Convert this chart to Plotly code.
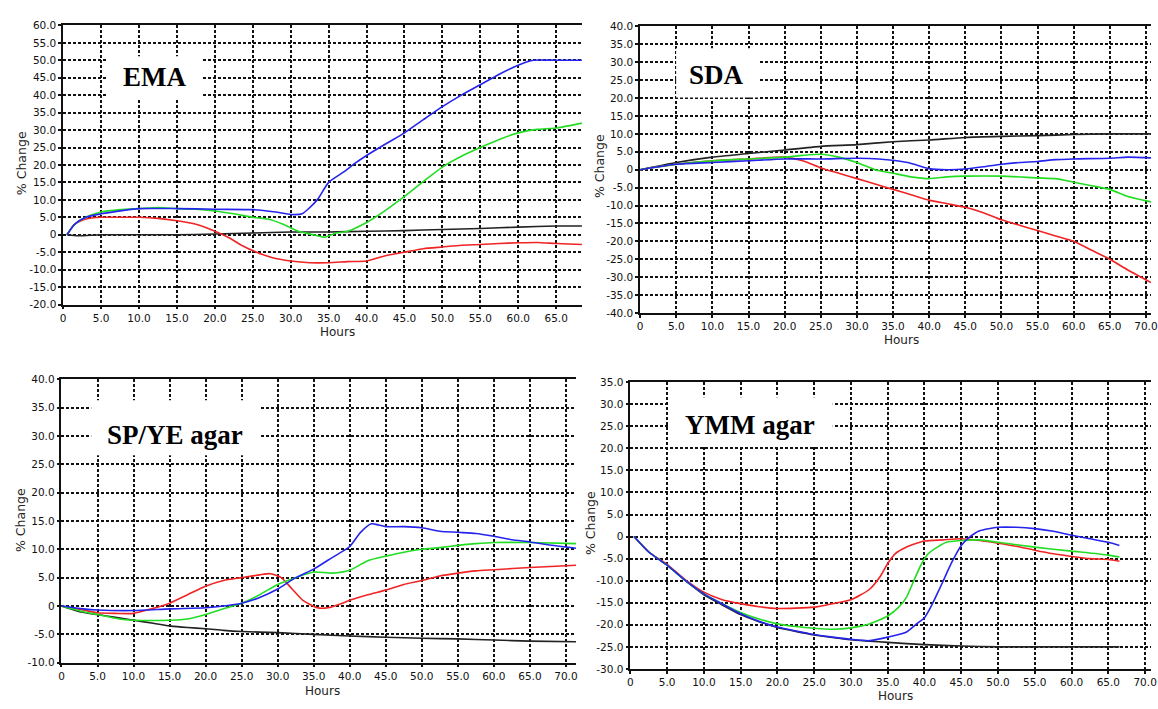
import plotly.graph_objects as go

W, H = 1158, 709

# ---------------- DATA ----------------
EMA_BLUE_H = [0.5, 1.5, 3, 5, 8, 10, 15, 20, 25, 28, 30, 31.5, 33.5, 35, 37, 38.5, 40, 42.5, 45, 47.5, 50, 52.5, 55, 57.5, 60, 62, 65, 68.4]
EMA_BLUE_V = [0, 3, 5, 6, 7, 7.5, 7.5, 7.3, 7.2, 6.5, 5.8, 6, 10, 15, 18, 20.5, 22.7, 26, 29.2, 33, 36.7, 40, 43, 46, 48.6, 50, 50, 50]
EMA_GREEN_H = [0.5, 1.5, 3, 5, 7.5, 10, 12.5, 15, 17.5, 20, 22.5, 25, 27, 29, 31, 33, 34.5, 36, 37.5, 40, 42.5, 45, 47.5, 50, 52.5, 55, 57.5, 60, 62.5, 65, 68.4]
EMA_GREEN_V = [0, 3, 5, 6.5, 7.2, 7.5, 7.8, 7.5, 7.3, 6.8, 6, 5, 4.5, 3, 1, 0, -0.7, 0.5, 1, 3.5, 7, 11, 15.3, 19.4, 22.5, 25, 27.3, 29.2, 30.2, 30.6, 32]
EMA_RED_H = [0.5, 1.5, 3, 5, 7.5, 10, 12.5, 15, 17.5, 20, 22, 23.5, 25.5, 27.5, 30, 32.5, 35, 37.5, 40, 42.5, 45, 47.5, 50, 52.5, 55, 57.5, 60, 62.5, 65, 68.4]
EMA_RED_V = [0, 3, 4.5, 5, 5, 5, 4.7, 4, 3, 1, -1, -3, -5, -6.5, -7.5, -8, -8, -7.7, -7.5, -6, -5, -4, -3.5, -3, -2.8, -2.5, -2.3, -2.2, -2.5, -2.8]
EMA_BLACK_H = [0.5, 2, 5, 10, 15, 20, 25, 30, 35, 40, 45, 50, 55, 60, 65, 68.4]
EMA_BLACK_V = [0, -0.3, 0, 0, 0, 0.2, 0.5, 0.8, 0.8, 1, 1.2, 1.5, 1.8, 2.2, 2.5, 2.5]

SDA_BLACK_H = [0, 5, 10, 15, 20, 25, 30, 35, 40, 45, 50, 55, 60, 65, 70.7]
SDA_BLACK_V = [0, 2, 3.5, 4.5, 5.5, 6.5, 7, 7.8, 8.3, 9, 9.3, 9.5, 9.8, 10, 10]
SDA_BLUE_H = [0, 5, 10, 15, 20, 25, 30, 33, 37, 40, 42.5, 45, 47.5, 50, 52.5, 55, 57.5, 60, 65, 67.5, 70.7]
SDA_BLUE_V = [0, 1.5, 2, 2.5, 3, 3, 3.2, 3, 2, 0.3, 0, 0.2, 0.8, 1.5, 2, 2.3, 2.8, 3, 3.2, 3.5, 3.3]
SDA_GREEN_H = [0, 5, 10, 15, 20, 22.5, 25, 27.5, 30, 32.5, 35, 37.5, 40, 42.5, 45, 50, 55, 57.5, 60, 62.5, 65, 67.5, 70.7]
SDA_GREEN_V = [0, 1.5, 2.5, 3, 3.5, 4, 4.3, 3.5, 2, 0, -1, -2, -2.5, -2, -1.8, -1.8, -2.3, -2.5, -3.5, -4.5, -5.5, -7.5, -9]
SDA_RED_H = [0, 5, 10, 15, 20, 22.5, 25, 27.5, 30, 32.5, 35, 37.5, 40, 42.5, 45, 47.5, 50, 52.5, 55, 57.5, 60, 62.5, 65, 67.5, 70.7]
SDA_RED_V = [0, 1.5, 2.5, 3, 3.5, 2.5, 0.5, -1, -2.5, -4, -5.5, -7, -8.5, -9.5, -10.5, -12, -14, -15.5, -17, -18.5, -20, -22.5, -25, -28, -31.5]

SPYE_BLACK_H = [0, 2.5, 5, 7.5, 10, 12.5, 15, 17.5, 20, 22.5, 25, 30, 35, 40, 45, 50, 55, 60, 65, 71.4]
SPYE_BLACK_V = [0, -1, -1.5, -2, -2.5, -3, -3.5, -3.8, -4, -4.3, -4.5, -4.7, -5, -5.3, -5.5, -5.7, -5.8, -6, -6.2, -6.3]
SPYE_BLUE_H = [0, 3, 5, 10, 15, 20, 22.5, 25, 27.5, 30, 32.5, 35, 37.5, 40, 41.5, 43, 44, 45, 47.5, 50, 52.5, 55, 57.5, 60, 62.5, 65, 67.5, 71.4]
SPYE_BLUE_V = [0, -0.5, -0.7, -0.8, -0.5, -0.3, 0, 0.5, 1.5, 3, 5, 6.5, 8.5, 10.5, 13, 14.5, 14.3, 14, 14, 13.8, 13.2, 13, 12.8, 12.3, 11.7, 11.3, 10.8, 10.2]
SPYE_GREEN_H = [0, 3, 5, 8, 10, 15, 17.5, 20, 22.5, 25, 27.5, 30, 32.5, 35, 37.5, 40, 42.5, 45, 47.5, 50, 52.5, 55, 57.5, 60, 65, 71.4]
SPYE_GREEN_V = [0, -1, -1.5, -2.3, -2.5, -2.5, -2.3, -1.5, -0.5, 0.5, 2, 3.8, 5, 6, 5.8, 6.3, 8, 8.8, 9.5, 10, 10.3, 10.7, 11, 11.2, 11.2, 11]
SPYE_RED_H = [0, 3, 5, 7.5, 10, 12.5, 15, 17.5, 20, 22.5, 25, 27.5, 29, 30.5, 32, 33.5, 35.5, 37, 39, 40, 42.5, 45, 47.5, 50, 52.5, 55, 57.5, 60, 65, 71.4]
SPYE_RED_V = [0, -0.7, -1.2, -1.3, -1.3, -0.5, 0.5, 2, 3.5, 4.5, 5, 5.5, 5.7, 5, 3, 1, -0.3, -0.3, 0.5, 1, 2, 2.8, 3.8, 4.5, 5.3, 5.8, 6.2, 6.4, 6.8, 7.2]

YMM_BLACK_H = [0.5, 2.5, 5, 7.5, 10, 12.5, 15, 17.5, 20, 22.5, 25, 27.5, 30, 32.5, 35, 40, 45, 50, 55, 60, 66.5]
YMM_BLACK_V = [0, -3.5, -6.5, -10, -13.2, -15.5, -17.7, -19.3, -20.6, -21.5, -22.3, -22.9, -23.4, -23.7, -24, -24.5, -24.8, -25, -25, -25, -25]
YMM_BLUE_H = [0.5, 2.5, 5, 7.5, 10, 12.5, 15, 17.5, 20, 22.5, 25, 27.5, 30, 32.5, 35, 37.5, 39, 40, 41, 42, 42.5, 43.75, 45, 46, 47.5, 50, 52.5, 55, 57.5, 60, 62.5, 65, 66.5]
YMM_BLUE_V = [0, -3.5, -6.5, -10, -13, -15.3, -17.5, -19.2, -20.5, -21.4, -22.2, -22.8, -23.3, -23.6, -22.8, -21.7, -19.7, -18.4, -15.5, -12, -10.2, -5.7, -2, -0.3, 1.3, 2.1, 2.1, 1.8, 1.2, 0.3, -0.5, -1.3, -2]
YMM_GREEN_H = [0.5, 2.5, 5, 7.5, 10, 12.5, 15, 17.5, 20, 22.5, 25, 27.5, 30, 32.5, 35, 36.5, 37.5, 38.5, 39.5, 40.5, 41.75, 43, 45, 47.5, 50, 55, 60, 65, 66.5]
YMM_GREEN_V = [0, -3.5, -6.5, -10, -13, -15.2, -17.2, -18.7, -19.8, -20.4, -20.8, -21, -20.7, -19.8, -18, -16, -13.9, -10.2, -6.5, -3.9, -2.4, -1.3, -0.9, -0.75, -1.3, -2.4, -3.3, -4.2, -4.6]
YMM_RED_H = [0.5, 2.5, 5, 7.5, 10, 12.5, 15, 17.5, 20, 25, 27.5, 30, 32.5, 34, 35, 36, 37.5, 40, 42.5, 45, 47.5, 50, 52.5, 55, 57.5, 60, 62.5, 65, 66.5]
YMM_RED_V = [0, -3.5, -6.3, -9.8, -12.6, -14.3, -15.2, -15.9, -16.3, -16, -15.2, -14.3, -12, -9, -6.1, -3.9, -2.4, -1, -0.75, -0.5, -0.9, -1.5, -2.2, -3.1, -3.9, -4.5, -5, -5.2, -5.6]

PANEL_LABELS = ["EMA", "SDA", "SP/YE agar", "YMM agar"]
X_LABEL = "Hours"
Y_LABEL = "% Change"

COLORS = {"blue": "#2424ee", "green": "#22dd22", "red": "#f02424", "black": "#222222"}

# ---------------- LAYOUT HELPERS ----------------
def px(x):
    return x / W

def py(y):
    return 1 - y / H

def fmt(v):
    return "0" if v == 0 else f"{v:.1f}"

panels = [
    dict(l=60.7, r=584, t=19.7, b=303.7, xr=[0, 68.4], yr=[-20, 60],
         series=[("black", EMA_BLACK_H, EMA_BLACK_V), ("red", EMA_RED_H, EMA_RED_V),
                 ("green", EMA_GREEN_H, EMA_GREEN_V), ("blue", EMA_BLUE_H, EMA_BLUE_V)],
         box=(104, 200, 51, 94), text=(153, 72), ylab=(18, 160), xlab=(337, 332)),
    dict(l=642.7, r=1158, t=20.7, b=312.3, xr=[0, 70.7], yr=[-40, 40],
         series=[("black", SDA_BLACK_H, SDA_BLACK_V), ("red", SDA_RED_H, SDA_RED_V),
                 ("green", SDA_GREEN_H, SDA_GREEN_V), ("blue", SDA_BLUE_H, SDA_BLUE_V)],
         box=(679, 762, 43, 93), text=(720, 70), ylab=(601, 163), xlab=(906, 340)),
    dict(l=59, r=578, t=379.7, b=668, xr=[0, 71.4], yr=[-10, 40],
         series=[("black", SPYE_BLACK_H, SPYE_BLACK_V), ("red", SPYE_RED_H, SPYE_RED_V),
                 ("green", SPYE_GREEN_H, SPYE_GREEN_V), ("blue", SPYE_BLUE_H, SPYE_BLUE_V)],
         box=(89, 259, 401, 457), text=(174, 436), ylab=(17, 523), xlab=(322, 697)),
    dict(l=632.8, r=1158, t=382.7, b=674.3, xr=[0, 70.8], yr=[-30, 35],
         series=[("black", YMM_BLACK_H, YMM_BLACK_V), ("red", YMM_RED_H, YMM_RED_V),
                 ("green", YMM_GREEN_H, YMM_GREEN_V), ("blue", YMM_BLUE_H, YMM_BLUE_V)],
         box=(671, 837, 398, 448), text=(754, 426), ylab=(592, 526), xlab=(900, 702)),
]

fig = go.Figure()
layout = dict(width=W, height=H, margin=dict(l=0, r=0, t=0, b=0, pad=0),
              paper_bgcolor="white", plot_bgcolor="white", showlegend=False,
              shapes=[], annotations=[])

tickfont = dict(family="DejaVu Sans", size=10.5, color="#111111")

for i, p in enumerate(panels):
    n = "" if i == 0 else str(i + 1)
    xa, ya = "xaxis" + n, "yaxis" + n
    for col, hx, vy in p["series"]:
        fig.add_trace(go.Scatter(x=hx, y=vy, mode="lines", xaxis="x" + n, yaxis="y" + n,
                                 line=dict(color=COLORS[col], width=1.6, shape="spline", smoothing=0.6),
                                 hoverinfo="skip"))
    xt = [v for v in range(0, 75, 5) if v <= p["xr"][1]]
    yt = list(range(p["yr"][0], p["yr"][1] + 1, 5))
    common = dict(showgrid=True, gridcolor="#111111", gridwidth=1.5, griddash="3px,2px",
                  showline=True, linecolor="#111111", linewidth=1.5,
                  ticks="outside", ticklen=3, tickcolor="#111111", tickwidth=1.5,
                  zeroline=False, fixedrange=True, tickfont=tickfont,
                  ticklabeloverflow="allow")
    layout[xa] = dict(domain=[px(p["l"]), px(p["r"])], range=p["xr"], anchor="y" + n,
                      tickvals=xt, ticktext=[fmt(v) for v in xt], mirror=True, **common)
    layout[ya] = dict(domain=[py(p["b"]), py(p["t"])], range=p["yr"], anchor="x" + n,
                      tickvals=yt, ticktext=[fmt(v) for v in yt], **common)
    bx0, bx1, by0, by1 = p["box"]
    layout["shapes"].append(dict(type="rect", xref="paper", yref="paper",
                                 x0=px(bx0), x1=px(bx1), y0=py(by1), y1=py(by0),
                                 fillcolor="white", line=dict(width=0), layer="above"))
    layout["annotations"].append(dict(text="<b>" + PANEL_LABELS[i] + "</b>", xref="paper", yref="paper",
                                      x=px(p["text"][0]), y=py(p["text"][1]),
                                      xanchor="center", yanchor="middle", showarrow=False,
                                      font=dict(family="Liberation Serif", size=27, color="black")))
    layout["annotations"].append(dict(text=Y_LABEL, xref="paper", yref="paper",
                                      x=px(p["ylab"][0]), y=py(p["ylab"][1]), textangle=-90,
                                      xanchor="center", yanchor="middle", showarrow=False,
                                      font=dict(family="DejaVu Sans", size=12.5, color="#222222")))
    layout["annotations"].append(dict(text=X_LABEL, xref="paper", yref="paper",
                                      x=px(p["xlab"][0]), y=py(p["xlab"][1]),
                                      xanchor="center", yanchor="middle", showarrow=False,
                                      font=dict(family="DejaVu Sans", size=12, color="#222222")))

fig.update_layout(**layout)
fig.write_html("out.html", config={"displayModeBar": False},
               post_script="document.body.style.margin='0px';document.body.style.overflow='hidden';")
